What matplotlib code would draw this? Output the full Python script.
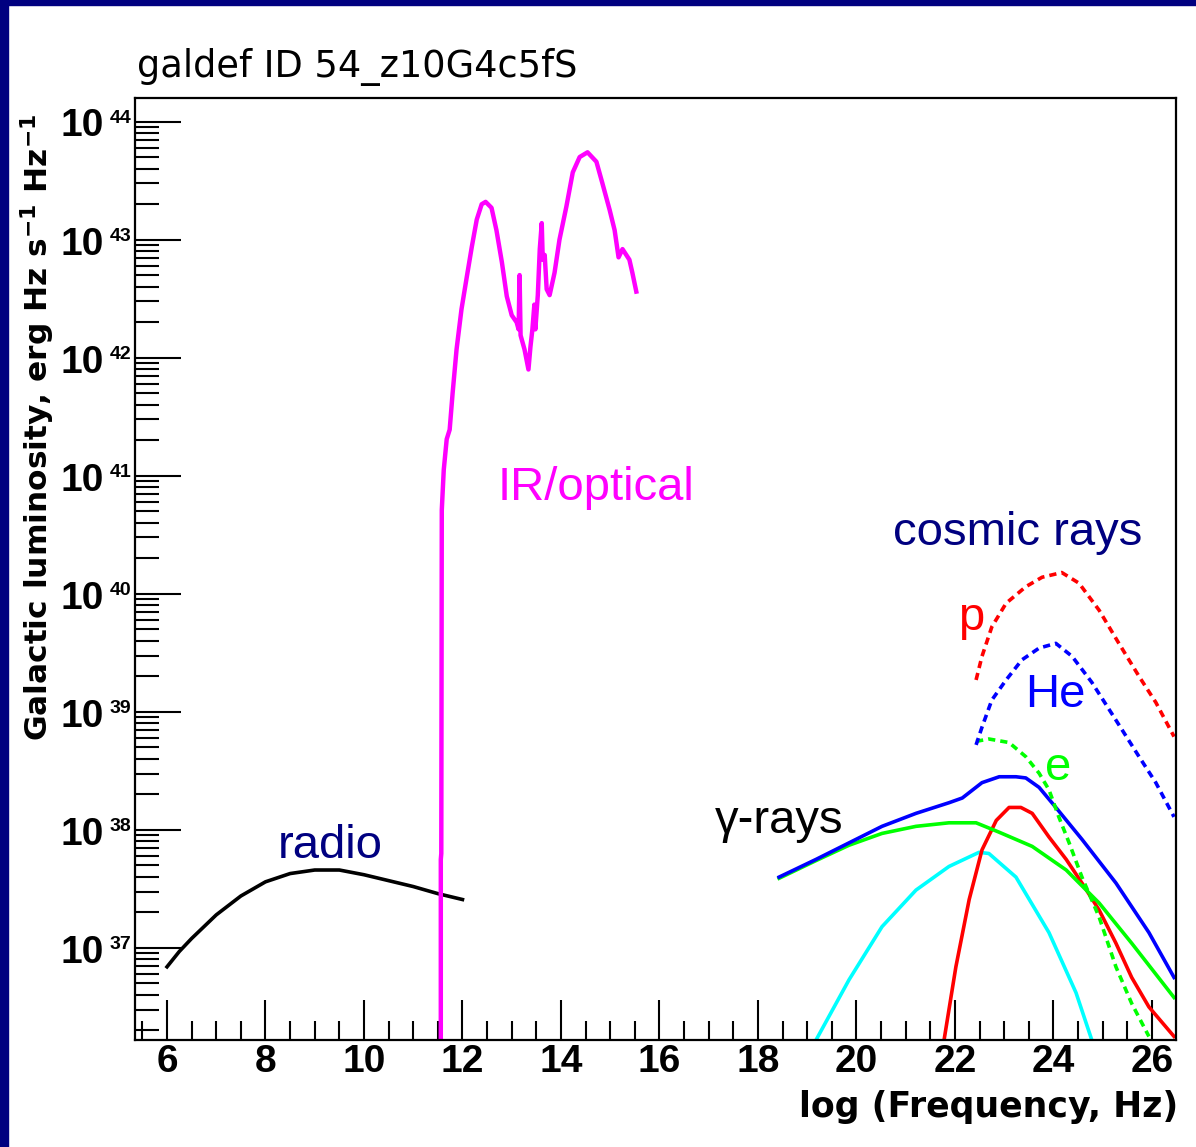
import numpy as np
import matplotlib
matplotlib.use("Agg")
import matplotlib.pyplot as plt
from matplotlib.patches import Rectangle
from matplotlib.ticker import FixedLocator, NullFormatter, MultipleLocator

plt.rcParams['font.family'] = ['Liberation Sans', 'DejaVu Sans']
plt.rcParams['mathtext.fontset'] = 'dejavusans'

# ---- data: log10(frequency / Hz), log10(luminosity / erg Hz s^-1 Hz^-1) ----
radio_x = [6.0, 6.25, 6.5, 6.75, 7.0, 7.5, 8.0, 8.5, 9.0, 9.5, 10.0, 10.5, 11.0, 11.5, 12.0]
radio_y = [36.84, 36.97, 37.08, 37.18, 37.28, 37.44, 37.56, 37.63, 37.66, 37.66, 37.62,
           37.57, 37.52, 37.46, 37.41]

ir_x = [11.56, 11.56, 11.57, 11.58, 11.62, 11.68, 11.74, 11.80, 11.88, 11.98, 12.09, 12.19,
        12.29, 12.39, 12.47, 12.59, 12.69, 12.80, 12.90, 13.00, 13.10, 13.14, 13.16, 13.18,
        13.26, 13.34, 13.38, 13.42, 13.46, 13.48, 13.53, 13.57, 13.61, 13.63, 13.67, 13.71,
        13.77, 13.87, 13.97, 14.11, 14.24, 14.38, 14.54, 14.72, 14.84, 14.99, 15.09, 15.17,
        15.25, 15.39, 15.45, 15.53]
ir_y = [35.5, 37.75, 37.80, 40.71, 41.05, 41.31, 41.39, 41.70, 42.07, 42.41, 42.69, 42.94,
        43.17, 43.30, 43.32, 43.27, 43.08, 42.81, 42.52, 42.36, 42.30, 42.24, 42.70, 42.19,
        42.07, 41.90, 42.09, 42.24, 42.45, 42.24, 42.53, 42.92, 43.14, 42.83, 42.87, 42.58,
        42.53, 42.72, 43.00, 43.28, 43.57, 43.70, 43.74, 43.66, 43.48, 43.25, 43.08, 42.85,
        42.92, 42.83, 42.72, 42.56]

gam_x = [18.43, 19.18, 19.85, 20.52, 21.21, 21.88, 22.15, 22.55, 22.90, 23.24, 23.44, 23.71,
         24.05, 24.58, 25.27, 25.94, 26.45]
gam_total = [37.60, 37.75, 37.89, 38.03, 38.14, 38.23, 38.27, 38.40, 38.45, 38.45, 38.44,
             38.36, 38.19, 37.92, 37.55, 37.13, 36.75]

ic_x = [18.43, 19.18, 19.85, 20.52, 21.21, 21.88, 22.43, 22.90, 23.57, 24.26, 24.93, 25.59, 26.45]
ic_y = [37.59, 37.74, 37.87, 37.97, 38.03, 38.06, 38.06, 37.98, 37.86, 37.66, 37.38, 37.04, 36.58]

brems_x = [19.18, 19.85, 20.52, 21.21, 21.88, 22.49, 22.69, 23.24, 23.91, 24.46, 24.78]
brems_y = [36.22, 36.73, 37.18, 37.49, 37.69, 37.81, 37.80, 37.60, 37.13, 36.62, 36.22]

pi0_x = [21.78, 22.02, 22.29, 22.55, 22.84, 23.10, 23.34, 23.57, 23.91, 24.26, 24.58, 24.93,
         25.27, 25.59, 25.94, 26.45]
pi0_y = [36.22, 36.84, 37.41, 37.83, 38.08, 38.19, 38.19, 38.14, 37.94, 37.75, 37.55, 37.32,
         37.04, 36.75, 36.50, 36.25]

cre_x = [22.43, 22.69, 23.10, 23.44, 23.71, 23.91, 24.11, 24.32, 24.58, 24.93, 25.27, 25.59, 25.94]
cre_y = [38.75, 38.77, 38.74, 38.62, 38.48, 38.34, 38.11, 37.89, 37.60, 37.26, 36.84, 36.53, 36.25]

he_x = [22.43, 22.55, 22.75, 23.04, 23.36, 23.71, 24.05, 24.38, 24.78, 25.27, 25.74, 26.08, 26.45]
he_y = [38.72, 38.87, 39.10, 39.27, 39.44, 39.54, 39.58, 39.47, 39.25, 38.93, 38.62, 38.40, 38.11]

p_x = [22.43, 22.55, 22.75, 23.04, 23.44, 23.77, 24.17, 24.52, 24.93, 25.33, 25.74, 26.08, 26.45]
p_y = [39.27, 39.47, 39.72, 39.92, 40.06, 40.14, 40.18, 40.09, 39.86, 39.58, 39.30, 39.08, 38.79]

decades = list(range(37, 45))

W, H = 1196, 1147
fig = plt.figure(figsize=(W / 100, H / 100), dpi=100)
fig.patches.append(Rectangle((0, 0), 8 / W, 1, transform=fig.transFigure, color='#000080', zorder=0))
fig.patches.append(Rectangle((0, 1 - 5 / H), 1, 5 / H, transform=fig.transFigure, color='#000080', zorder=0))

ax = fig.add_axes([135 / W, 1 - 1040 / H, (1176 - 135) / W, (1040 - 98) / H])

def lin(v):
    return 10.0 ** np.array(v)

lw = 2.6
ax.plot(radio_x, lin(radio_y), color='black', lw=lw)
ax.plot(ir_x, lin(ir_y), color='#FF00FF', lw=3.2)
ax.plot(brems_x, lin(brems_y), color='#00FFFF', lw=lw)
ax.plot(pi0_x, lin(pi0_y), color='#FF0000', lw=lw)
ax.plot(ic_x, lin(ic_y), color='#00FF00', lw=lw)
ax.plot(gam_x, lin(gam_total), color='#0000FF', lw=lw)
dash = (0, (2.0, 1.4))
ax.plot(cre_x, lin(cre_y), color='#00FF00', lw=lw, linestyle=dash)
ax.plot(he_x, lin(he_y), color='#0000FF', lw=lw, linestyle=dash)
ax.plot(p_x, lin(p_y), color='#FF0000', lw=lw, linestyle=dash)

ax.set_yscale('log')
ax.set_xlim(5.35, 26.49)
ax.set_ylim(10 ** 36.22, 10 ** 44.2)

ax.xaxis.set_major_locator(MultipleLocator(2))
ax.xaxis.set_minor_locator(MultipleLocator(0.5))
ax.yaxis.set_major_locator(FixedLocator([10.0 ** d for d in decades]))
minors = [m * 10.0 ** d for d in range(36, 45) for m in range(2, 10)]
ax.yaxis.set_minor_locator(FixedLocator(minors))
ax.yaxis.set_minor_formatter(NullFormatter())
ax.yaxis.set_major_formatter(NullFormatter())

ax.tick_params(axis='both', which='both', direction='in', color='black', width=1.5)
ax.tick_params(axis='x', which='major', length=29, labelsize=28, pad=3)
ax.tick_params(axis='x', which='minor', length=14)
ax.tick_params(axis='y', which='major', length=33)
ax.tick_params(axis='y', which='minor', length=17)
for lab in ax.get_xticklabels():
    lab.set_fontweight('bold')
for s in ax.spines.values():
    s.set_linewidth(1.6)

# ROOT-style "10^N" labels: big "10", small raised exponent
for d in decades:
    ax.annotate('10', xy=(0, 10.0 ** d), xycoords=('axes fraction', 'data'),
                xytext=(-22.5, -3.5), textcoords='offset points',
                fontsize=28, fontweight='bold', ha='right', va='center')
    ax.annotate(str(d), xy=(0, 10.0 ** d), xycoords=('axes fraction', 'data'),
                xytext=(-18.5, 8.5), textcoords='offset points',
                fontsize=14, fontweight='bold', ha='left', va='top')

fig.text(137 / W, 1 - 77 / H, 'galdef ID 54_z10G4c5fS', fontsize=26.5, family='DejaVu Sans',
         ha='left', va='baseline')
fig.text(1178 / W, 1 - 1117 / H, 'log (Frequency, Hz)', fontsize=25, fontweight='bold',
         family='DejaVu Sans', ha='right', va='baseline')
fig.text(38 / W, 1 - 114 / H,
         r'Galactic luminosity, erg Hz s$^{\mathbf{-1}}$ Hz$^{\mathbf{-1}}$',
         fontsize=22.5, fontweight='bold', family='DejaVu Sans', rotation=90,
         ha='center', va='top')

def label(px, py, s, color):
    fig.text(px / W, 1 - py / H, s, fontsize=34, color=color, ha='left', va='baseline')

label(498, 500, 'IR/optical', '#FF00FF')
label(893, 545, 'cosmic rays', '#000080')
label(958, 630, 'p', '#FF0000')
label(1025, 707, 'He', '#0000FF')
label(1045, 780, 'e', '#00FF00')
label(715, 833, '\u03b3-rays', 'black')
label(278, 858, 'radio', '#000080')

fig.savefig('out.png', dpi=100)
